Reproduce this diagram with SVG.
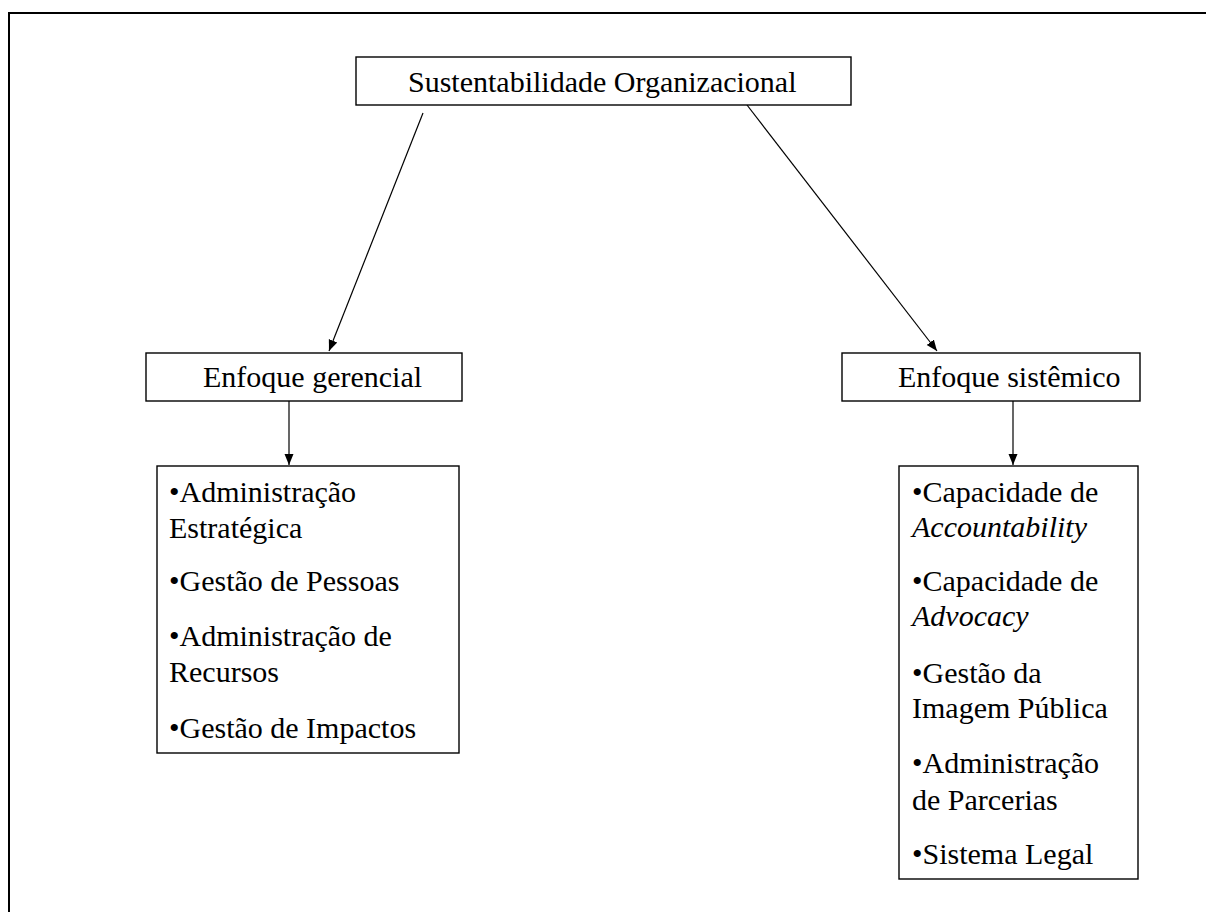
<svg xmlns="http://www.w3.org/2000/svg" width="1206" height="912" viewBox="0 0 1206 912">
<style>
.box{fill:#fff;stroke:#000;stroke-width:1.4}
.t{font-family:"Liberation Serif","Times New Roman",serif;font-size:30px;fill:#000}
.i{font-style:italic}
.c{stroke:#000;stroke-width:1.2;fill:none}
</style>
<defs>
<marker id="ah" markerUnits="userSpaceOnUse" markerWidth="12" markerHeight="12" viewBox="0 0 12 12" refX="11" refY="6" orient="auto">
<path d="M0,1.5 L11,6 L0,10.5 Z" fill="#000"/>
</marker>
</defs>
<rect x="0" y="0" width="1206" height="912" fill="#fff"/>
<rect id="frame" x="9" y="13" width="1230" height="930" fill="none" stroke="#000" stroke-width="2"/>
<g id="connectors">
<line class="c" x1="423" y1="113" x2="329" y2="351" marker-end="url(#ah)"/>
<line class="c" x1="747" y1="105" x2="937" y2="351" marker-end="url(#ah)"/>
<line class="c" x1="289" y1="401" x2="289" y2="465" marker-end="url(#ah)"/>
<line class="c" x1="1013" y1="401" x2="1013" y2="465" marker-end="url(#ah)"/>
</g>
<g id="root">
<rect class="box" x="356" y="57" width="495" height="48"/>
<text class="t" x="408" y="92" font-size="29.6">Sustentabilidade Organizacional</text>
</g>
<g id="gerencial">
<rect class="box" x="146" y="353" width="316" height="48"/>
<text class="t" x="203" y="387">Enfoque gerencial</text>
</g>
<g id="sistemico">
<rect class="box" x="842" y="353" width="298" height="48"/>
<text class="t" x="898" y="387">Enfoque sistêmico</text>
</g>
<g id="lista-gerencial">
<rect class="box" x="157" y="466" width="302" height="287"/>
<text class="t" x="169" y="502">•Administração</text>
<text class="t" x="169" y="537.5">Estratégica</text>
<text class="t" x="169" y="591">•Gestão de Pessoas</text>
<text class="t" x="169" y="646">•Administração de</text>
<text class="t" x="169" y="682">Recursos</text>
<text class="t" x="169" y="738">•Gestão de Impactos</text>
</g>
<g id="lista-sistemico">
<rect class="box" x="899" y="466" width="239" height="413"/>
<text class="t" x="912" y="502">•Capacidade de</text>
<text class="t i" x="912" y="537">Accountability</text>
<text class="t" x="912" y="591">•Capacidade de</text>
<text class="t i" x="912" y="626">Advocacy</text>
<text class="t" x="912" y="683">•Gestão da</text>
<text class="t" x="912" y="718">Imagem Pública</text>
<text class="t" x="912" y="773">•Administração</text>
<text class="t" x="912" y="810">de Parcerias</text>
<text class="t" x="912" y="864">•Sistema Legal</text>
</g>
</svg>
